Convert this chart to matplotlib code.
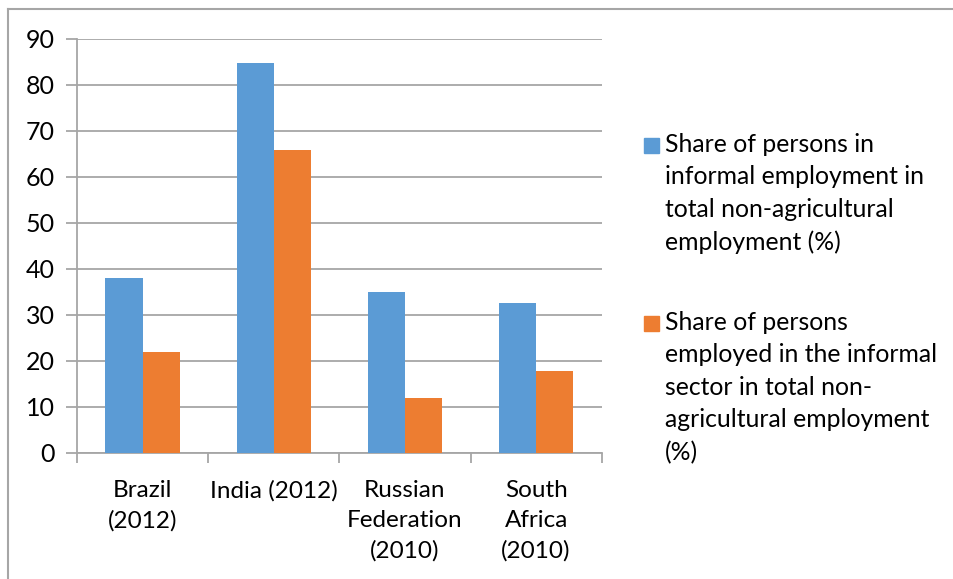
import matplotlib.pyplot as plt
import numpy as np
from matplotlib.patches import Rectangle
from matplotlib.lines import Line2D

plt.rcParams['font.family'] = ['Lato', 'DejaVu Sans']

countries = ['Brazil\n(2012)', 'India (2012)', 'Russian\nFederation\n(2010)', 'South\nAfrica\n(2010)']
informal_employment = [37.9, 84.7, 34.9, 32.6]
informal_sector = [22.0, 65.7, 12.0, 17.7]
series_names = ['Share of persons in\ninformal employment in\ntotal non-agricultural\nemployment (%)',
                'Share of persons\nemployed in the informal\nsector in total non-\nagricultural employment\n(%)']
colors = ['#5B9BD5', '#ED7D31']

W, H = 954, 579
fig = plt.figure(figsize=(W / 100, H / 100), dpi=100)
ax = fig.add_axes([77 / W, 1 - 452.7 / H, (601.7 - 77) / W, (452.7 - 38.7) / H])

x = np.arange(len(countries))
w = 0.283
ax.bar(x - w / 2, informal_employment, w, color=colors[0], zorder=3)
ax.bar(x + w / 2, informal_sector, w, color=colors[1], zorder=3)

ax.set_xlim(-0.5, len(countries) - 0.5)
ax.set_ylim(0, 90)
ax.set_yticks(range(0, 91, 10))
ax.yaxis.grid(True, color='#A6A6A6', lw=1.3, zorder=0)
ax.set_axisbelow(True)

for s in ['top', 'right']:
    ax.spines[s].set_visible(False)
for s in ['left', 'bottom']:
    ax.spines[s].set_color('#A6A6A6')
    ax.spines[s].set_linewidth(1.3)

ax.tick_params(axis='y', length=8, width=1.3, color='#A6A6A6', labelsize=18, pad=8)
# category boundaries carry the x tick marks, labels sit at the centres
ax.set_xticks(np.arange(-0.5, len(countries), 1.0))
ax.set_xticklabels([])
ax.tick_params(axis='x', which='major', length=7, width=1.3, color='#A6A6A6')
ax.set_xticks(x, minor=True)
ax.set_xticklabels(countries, minor=True, fontsize=17.5, linespacing=1.5)
ax.tick_params(axis='x', which='minor', length=0, pad=20)

# legend: small squares beside wrapped labels
tops = [133, 311]
for name, c, top in zip(series_names, colors, tops):
    fig.patches.append(Rectangle((644 / W, 1 - (top + 20) / H), 15 / W, 15 / H,
                                 transform=fig.transFigure, color=c))
    fig.text(665 / W, 1 - top / H, name, fontsize=17.8, va='top', ha='left', linespacing=1.5)

# chart frame (top and left edges)
fig.add_artist(Line2D([8 / W, 1], [1 - 9 / H, 1 - 9 / H], color='#A6A6A6', lw=1.5, transform=fig.transFigure))
fig.add_artist(Line2D([8 / W, 8 / W], [0, 1 - 9 / H], color='#A6A6A6', lw=1.5, transform=fig.transFigure))

fig.savefig('out.png', dpi=100)
